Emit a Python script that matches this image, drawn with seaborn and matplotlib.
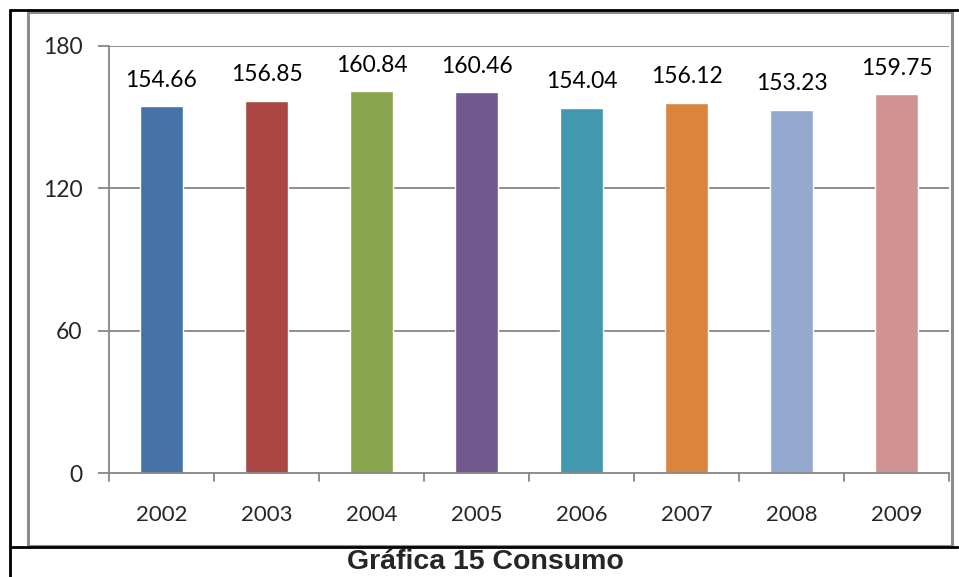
import matplotlib
matplotlib.use("Agg")
import matplotlib.pyplot as plt
import seaborn as sns
import pandas as pd
from matplotlib.lines import Line2D
from matplotlib.patches import Rectangle

years = ["2002", "2003", "2004", "2005", "2006", "2007", "2008", "2009"]
consumo = [154.66, 156.85, 160.84, 160.46, 154.04, 156.12, 153.23, 159.75]
colores = ["#4572A7", "#AA4643", "#89A54E", "#71588F", "#4198AF", "#DB843D", "#93A9CF", "#D19392"]
y_ticks = [0, 60, 120, 180]


def main():
    df = pd.DataFrame({"year": years, "consumo": consumo})

    sns.set_theme(style="white")
    plt.rcParams["font.family"] = ["Lato", "DejaVu Sans"]

    W, H = 959, 577
    fig = plt.figure(figsize=(W / 100, H / 100), dpi=100)
    ax = fig.add_axes([109 / W, 1 - 473 / H, (949 - 109) / W, (473 - 46) / H])

    sns.barplot(data=df, x="year", y="consumo", hue="year", palette=colores,
                legend=False, width=0.41, ax=ax, saturation=1)

    # etiquetas de valor
    for i, v in enumerate(consumo):
        ax.text(i, v + 6.5, f"{v:.2f}", ha="center", va="bottom", fontsize=16.5, color="black")

    ax.set_ylim(0, 180)
    ax.set_xlim(-0.5, len(years) - 0.5)
    ax.set_yticks(y_ticks)
    ax.set_yticklabels([str(t) for t in y_ticks], fontsize=16.5)
    ax.set_xticks(range(len(years)))
    ax.set_xticklabels(years, fontsize=16)
    ax.set_xlabel("")
    ax.set_ylabel("")

    grid_c = "#868686"
    for t in y_ticks[1:]:
        ax.axhline(t, color=grid_c, lw=1.3, zorder=0)
    for s in ["top", "right"]:
        ax.spines[s].set_visible(False)
    for s in ["left", "bottom"]:
        ax.spines[s].set_color(grid_c)
        ax.spines[s].set_linewidth(1.3)

    # marcas del eje x entre categorias
    ax.tick_params(axis="y", length=8, width=1.3, color=grid_c, pad=11, left=True)
    ax.tick_params(axis="x", length=0, pad=23)
    for b in [i - 0.5 for i in range(len(years) + 1)]:
        ax.plot([b, b], [0, -3.3], color=grid_c, lw=1.3, clip_on=False)
    ax.set_ylim(0, 180)

    # marco gris del grafico
    fig.patches.append(Rectangle((28 / W, 1 - 546 / H), (952 - 28) / W, (546 - 12) / H,
                                 transform=fig.transFigure, fill=False,
                                 edgecolor="#8c8c8c", lw=2.2))
    # lineas negras de la tabla
    fig.lines.append(Line2D([10 / W, 10 / W], [0, 1 - 10 / H], transform=fig.transFigure,
                            color="black", lw=2))
    fig.lines.append(Line2D([10 / W, 958 / W], [1 - 10 / H, 1 - 10 / H], transform=fig.transFigure,
                            color="black", lw=2))
    fig.lines.append(Line2D([10 / W, 958 / W], [1 - 547 / H, 1 - 547 / H], transform=fig.transFigure,
                            color="black", lw=2))

    fig.text(485 / W, 1 - 562 / H, "Gráfica 15 Consumo", ha="center", va="center",
             fontsize=20.5, fontweight="bold", family=["Liberation Sans", "DejaVu Sans"])

    fig.savefig("out.png", dpi=100)


if __name__ == "__main__":
    main()
